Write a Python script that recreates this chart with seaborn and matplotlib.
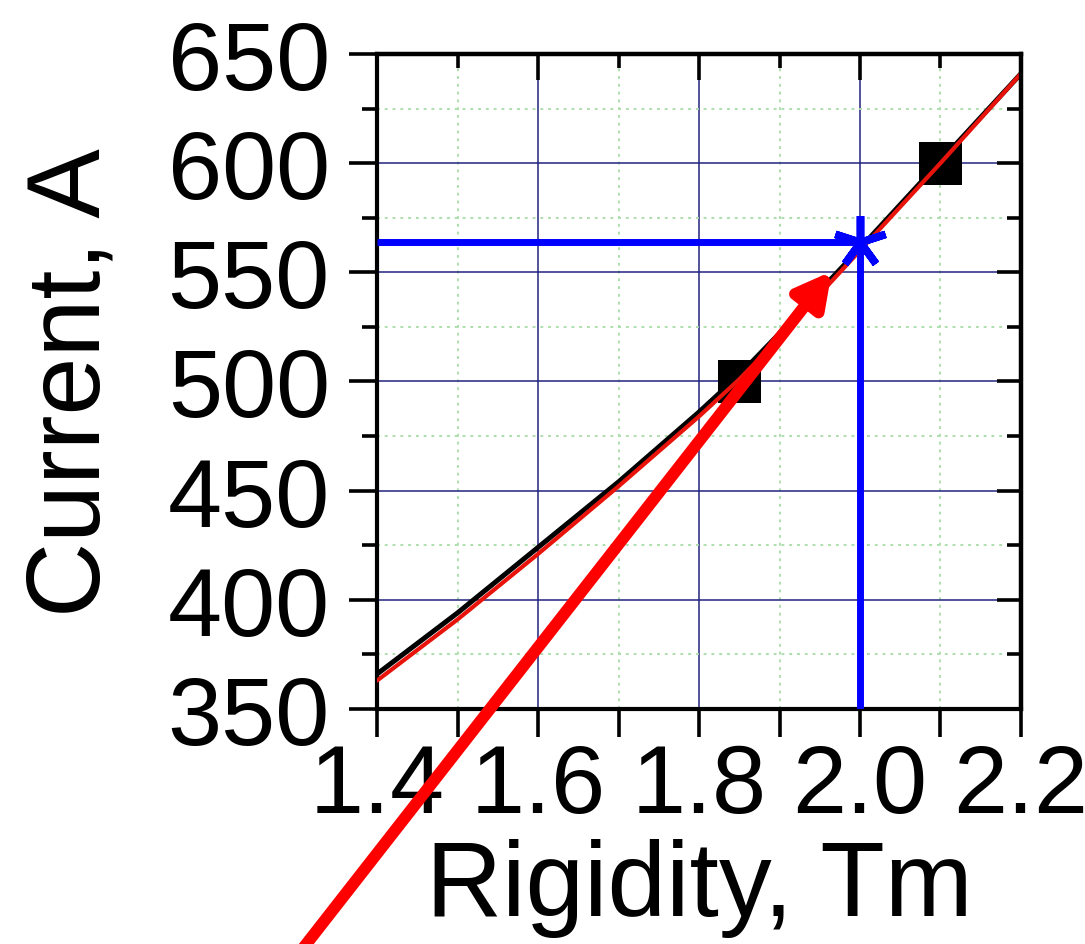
import numpy as np
import pandas as pd
import matplotlib
matplotlib.use("Agg")
import matplotlib.pyplot as plt
from matplotlib.ticker import MultipleLocator
import seaborn as sns

# Measured calibration points (rigidity in Tm, magnet current in A)
points_rigidity = [1.85, 2.10]
points_current = [500, 600]

# Fitted calibration curve (red) and reference curve (black)
curve_rigidity = [1.40, 1.50, 1.60, 1.70, 1.80, 1.85, 1.90, 2.00, 2.10, 2.20]
fit_current = [363, 391, 421, 452, 484, 501, 520, 560, 600, 641]
ref_current = [366, 394, 424, 454, 486, 503, 522, 561, 601, 641]

# Working point
work_rigidity = 2.0
work_current = 564

# Pointer arrow (tail, head) in data units
arrow_rigidity = [1.286, 1.965]
arrow_current = [230, 550.5]

x_ticks = [1.4, 1.6, 1.8, 2.0, 2.2]
x_tick_labels = ["1.4", "1.6", "1.8", "2.0", "2.2"]
y_ticks = [350, 400, 450, 500, 550, 600, 650]
x_lim = (1.4, 2.2)
y_lim = (350, 650)

sns.set_theme(style="ticks")
plt.rcParams["font.family"] = ["Liberation Sans", "DejaVu Sans"]

fig = plt.figure(figsize=(10.85, 9.45), dpi=100)
ax = fig.add_axes([0.3475, 0.2487, 0.5935, 0.6931])

# Companion axes carrying the inward ticks on the top and right edges
ax_top = ax.twiny()
ax_right = ax.twinx()

curves = pd.DataFrame({"rigidity": curve_rigidity, "fit": fit_current, "ref": ref_current})
sns.lineplot(data=curves, x="rigidity", y="ref", color="black", lw=3.6, ax=ax, zorder=3)
sns.lineplot(data=curves, x="rigidity", y="fit", color="#e8140c", lw=3.0, ax=ax, zorder=4)

pts = pd.DataFrame({"rigidity": points_rigidity, "current": points_current})
sns.scatterplot(data=pts, x="rigidity", y="current", marker="s", s=31 ** 2,
                color="black", edgecolor="none", ax=ax, zorder=2.8)

# Read-off lines and working-point marker
ax.plot([x_lim[0], work_rigidity, work_rigidity],
        [work_current, work_current, y_lim[0]],
        color="#0000ff", lw=5, solid_capstyle="butt", zorder=5)
ax.plot([work_rigidity], [work_current], marker=(5, 2, 0), ms=38, mew=5.5,
        color="#0000ff", linestyle="none", zorder=6)

ax.annotate("", xy=(arrow_rigidity[1], arrow_current[1]),
            xytext=(arrow_rigidity[0], arrow_current[0]),
            xycoords="data", textcoords="data", annotation_clip=False,
            arrowprops=dict(arrowstyle="-|>,head_length=0.45,head_width=0.24",
                            color="#ff0000", lw=8.5, mutation_scale=45,
                            shrinkA=0, shrinkB=0),
            zorder=7)

ax.set_xlim(*x_lim)
ax.set_ylim(*y_lim)
ax.set_xticks(x_ticks)
ax.set_xticklabels(x_tick_labels)
ax.set_yticks(y_ticks)
ax.xaxis.set_minor_locator(MultipleLocator(0.1))
ax.yaxis.set_minor_locator(MultipleLocator(25))

ax.grid(which="major", color="#232380", lw=1.1, linestyle="-")
ax.grid(which="minor", color="#aee0ae", lw=1.4, linestyle=(0, (1.5, 2.5)))
ax.set_axisbelow(True)

for s in ax.spines.values():
    s.set_color("black")
    s.set_linewidth(3)

ax.tick_params(axis="both", which="both", direction="out", width=2.6, color="black",
               left=True, bottom=True, top=False, right=False)
ax.tick_params(axis="both", which="major", length=20, labelsize=70, labelcolor="black")
ax.tick_params(axis="x", which="major", pad=4)
ax.tick_params(axis="y", which="major", pad=14)
ax.tick_params(axis="y", which="minor", length=11)
ax.tick_params(axis="x", which="minor", length=20)

ax_top.set_xlim(*x_lim)
ax_top.set_xticks(x_ticks)
ax_top.xaxis.set_minor_locator(MultipleLocator(0.1))
ax_top.tick_params(axis="x", which="both", direction="in", width=2.6, color="black",
                   top=True, bottom=False, labeltop=False, labelbottom=False)
ax_top.tick_params(axis="x", which="major", length=19)
ax_top.tick_params(axis="x", which="minor", length=10)

ax_right.set_ylim(*y_lim)
ax_right.set_yticks(y_ticks)
ax_right.yaxis.set_minor_locator(MultipleLocator(25))
ax_right.tick_params(axis="y", which="both", direction="in", width=2.6, color="black",
                     right=True, left=False, labelright=False, labelleft=False)
ax_right.tick_params(axis="y", which="major", length=17)
ax_right.tick_params(axis="y", which="minor", length=10)

for twin in (ax_top, ax_right):
    twin.grid(False)
    twin.patch.set_visible(False)
    for side in ("bottom", "left"):
        twin.spines[side].set_visible(False)
    for side in ("top", "right"):
        twin.spines[side].set_linewidth(3)
        twin.spines[side].set_color("black")

ax.set_xlabel("Rigidity, Tm", fontsize=76, color="black", labelpad=4)
ax.set_ylabel("Current, A", fontsize=75, color="black", labelpad=33)

fig.savefig("out.png", dpi=100, facecolor="white")
